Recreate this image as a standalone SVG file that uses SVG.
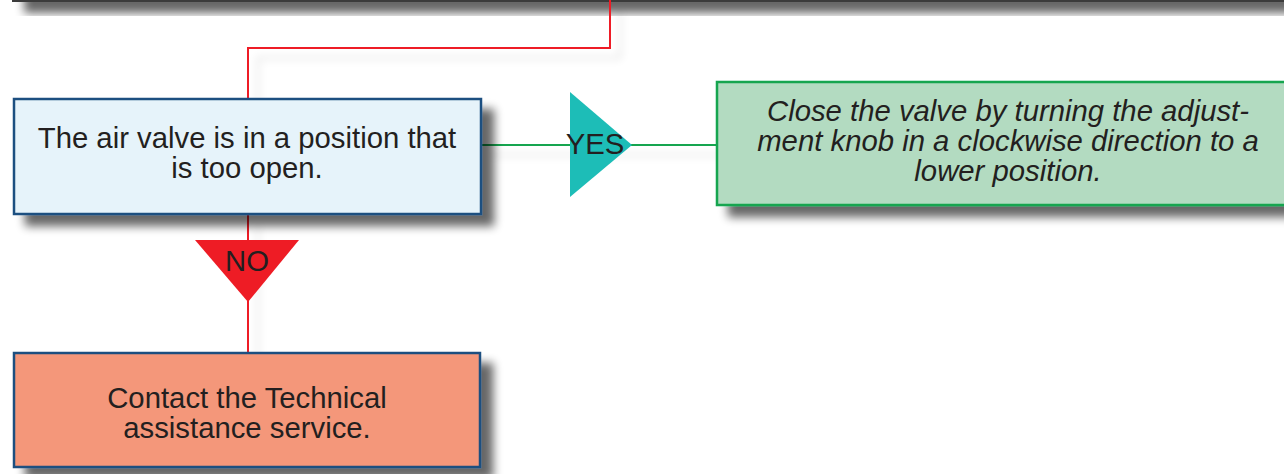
<svg xmlns="http://www.w3.org/2000/svg" width="1284" height="474" viewBox="0 0 1284 474">
<defs>
<filter id="sh" x="-20%" y="-40%" width="150%" height="200%">
<feGaussianBlur in="SourceAlpha" stdDeviation="5"/>
<feOffset dx="12" dy="11" result="b"/>
<feComponentTransfer><feFuncA type="linear" slope="0.6"/></feComponentTransfer>
<feMerge><feMergeNode/><feMergeNode in="SourceGraphic"/></feMerge>
</filter>
<filter id="lsh" x="-20%" y="-20%" width="150%" height="150%">
<feGaussianBlur in="SourceAlpha" stdDeviation="4"/>
<feOffset dx="10" dy="10"/>
<feComponentTransfer><feFuncA type="linear" slope="0.15"/></feComponentTransfer>
<feMerge><feMergeNode/><feMergeNode in="SourceGraphic"/></feMerge>
</filter>
</defs>
<style>
.t{font-family:"Liberation Sans",Arial,sans-serif;font-size:29.3px;fill:#231f20;text-anchor:middle}
.i{font-style:italic}
.box{stroke:#1b4f80;stroke-width:2.5}
.red{fill:none;stroke:#ee1c25;stroke-width:2}
.grn{fill:none;stroke:#13a54f;stroke-width:2}
</style>
<g id="top">
<rect x="12" y="-20" width="1290" height="22" fill="#3a3a3a" filter="url(#sh)"/>
</g>
<g id="connectors" filter="url(#lsh)">
<polyline class="red" points="610,0 610,48 248,48 248,99"/>
<line class="grn" x1="481" y1="145" x2="717" y2="145"/>
<line class="red" x1="248" y1="214" x2="248" y2="353"/>
</g>
<g id="n1">
<rect class="box" x="14" y="99" width="467" height="115" fill="#e6f3fa" filter="url(#sh)"/>
<text class="t" x="247" y="148">The air valve is in a position that</text>
<text class="t" x="247" y="178">is too open.</text>
</g>
<g id="yes">
<polygon points="570,92 570,197 632,145" fill="#1dbdb7"/>
<text class="t" x="595" y="154">YES</text>
</g>
<g id="n2">
<rect x="717" y="82" width="580" height="123" fill="#b3dbc1" stroke="#13a54f" stroke-width="2.5" filter="url(#sh)"/>
<text class="t i" x="1008" y="121">Close the valve by turning the adjust-</text>
<text class="t i" x="1008" y="151">ment knob in a clockwise direction to a</text>
<text class="t i" x="1008" y="181">lower position.</text>
</g>
<g id="no">
<polygon points="195,240 299,240 248,302" fill="#ee1c25"/>
<text class="t" x="247" y="271">NO</text>
</g>
<g id="n3">
<rect class="box" x="14" y="353" width="466" height="114" fill="#f4977a" filter="url(#sh)"/>
<text class="t" x="247" y="408">Contact the Technical</text>
<text class="t" x="247" y="438">assistance service.</text>
</g>
</svg>
